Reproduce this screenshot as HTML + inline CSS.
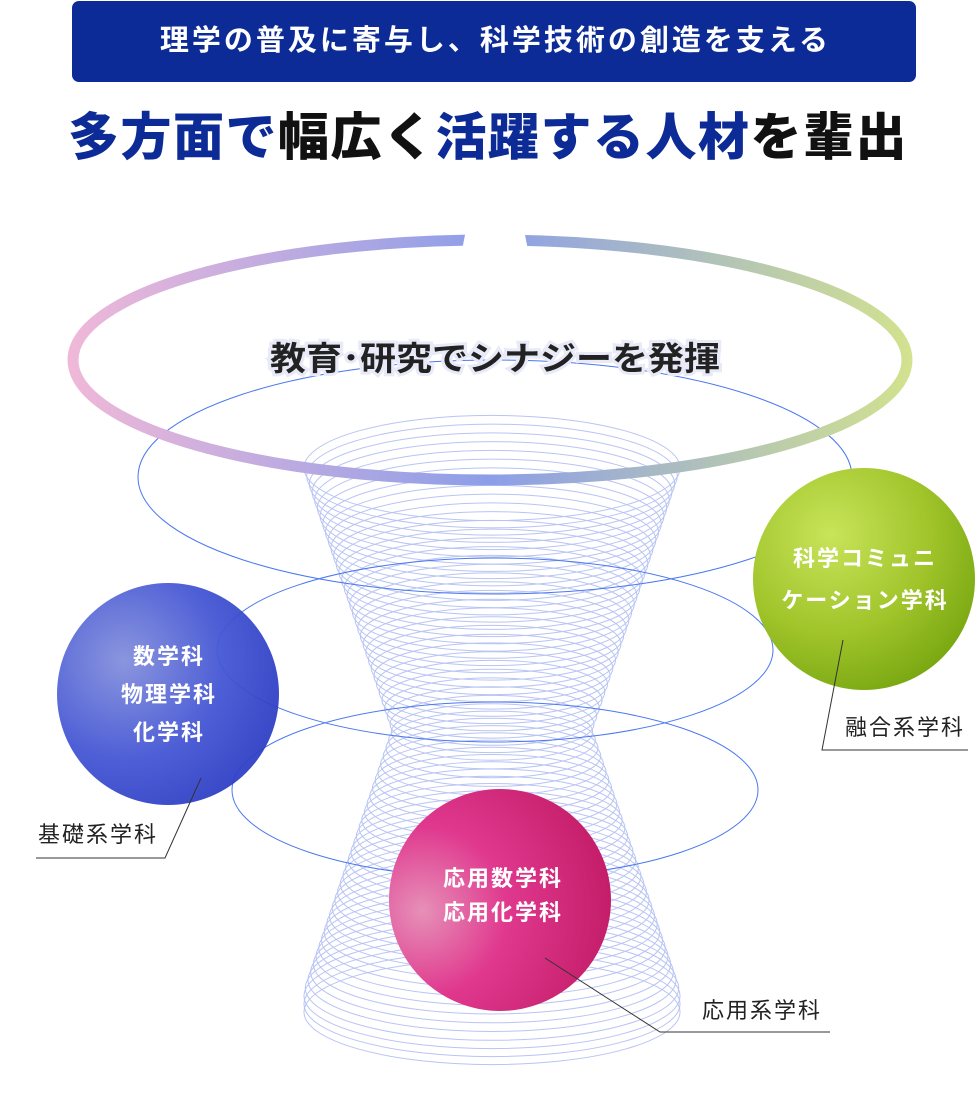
<!DOCTYPE html>
<html><head><meta charset="utf-8"><style>
body{margin:0;width:976px;height:1097px;background:#fff;overflow:hidden;font-family:"Liberation Sans","Noto Sans CJK JP",sans-serif;}
.hdr{position:absolute;left:72px;top:1px;width:844px;height:81px;background:#0c2b96;border-radius:7px;color:#fff;font-size:29px;font-weight:bold;text-align:center;line-height:81px;letter-spacing:3px;text-indent:3px;}
.ttl{position:absolute;left:0;top:106px;width:976px;text-align:center;font-size:51px;font-weight:900;color:#111;letter-spacing:1.5px;line-height:64px;}
.ttl b{color:#0c2b96;}
svg{position:absolute;left:0;top:0;}
</style></head><body>
<div class="hdr">理学の普及に寄与し、科学技術の創造を支える</div>
<div class="ttl"><b>多方面で</b>幅広く<b>活躍する人材</b>を輩出</div>
<svg width="976" height="1097" viewBox="0 0 976 1097" id="s">
<defs>
<linearGradient id="ring" x1="68" y1="0" x2="912" y2="0" gradientUnits="userSpaceOnUse">
<stop offset="0" stop-color="#f0b8d8"/><stop offset="0.5" stop-color="#8c9ee8"/><stop offset="1" stop-color="#d2e28e"/></linearGradient>
<radialGradient id="gb" cx="0.3" cy="0.35" r="0.75"><stop offset="0" stop-color="#8590dc"/><stop offset="0.6" stop-color="#4456d4"/><stop offset="1" stop-color="#2f3fc4"/></radialGradient>
<radialGradient id="gg" cx="0.35" cy="0.3" r="0.75"><stop offset="0" stop-color="#c8e45a"/><stop offset="0.6" stop-color="#a0c42a"/><stop offset="1" stop-color="#7aa812"/></radialGradient>
<radialGradient id="gp" cx="0.15" cy="0.55" r="0.85"><stop offset="0" stop-color="#e690b8"/><stop offset="0.45" stop-color="#e0388e"/><stop offset="1" stop-color="#c41e6a"/></radialGradient>
<mask id="gap"><rect width="976" height="1097" fill="#fff"/><polygon points="468,220 522,220 528,250 462,250" fill="#000"/></mask>
</defs>
<g id="hg" fill="none" stroke="#b8c4f4" stroke-width="1"></g>
<ellipse cx="495" cy="477" rx="357" ry="117" fill="none" stroke="#4a78f0" stroke-width="1"/>
<ellipse cx="495" cy="650" rx="278" ry="92" fill="none" stroke="#4a78f0" stroke-width="1"/>
<ellipse cx="495" cy="790" rx="263" ry="88" fill="none" stroke="#4a78f0" stroke-width="1"/>
<ellipse cx="490" cy="360" rx="417" ry="120" fill="none" stroke="url(#ring)" stroke-width="11" mask="url(#gap)"/>
<text x="270" y="370" textLength="450" lengthAdjust="spacingAndGlyphs" font-size="33" font-weight="bold" fill="#222" stroke="#e8eaf8" stroke-width="6" paint-order="stroke" font-family="Liberation Sans,Noto Sans CJK JP,sans-serif">教育･研究でシナジーを発揮</text>
<circle cx="168" cy="694" r="111" fill="url(#gb)" opacity="0.95"/>
<circle cx="864" cy="579" r="111" fill="url(#gg)"/>
<circle cx="500" cy="900" r="111" fill="url(#gp)"/>
<g fill="#fff" font-size="22" font-weight="bold" text-anchor="middle" letter-spacing="2" font-family="Liberation Sans,Noto Sans CJK JP,sans-serif">
<text x="169" y="664">数学科</text><text x="169" y="702">物理学科</text><text x="169" y="740">化学科</text>
<text x="865" y="566">科学コミュニ</text><text x="865" y="608">ケーション学科</text>
<text x="503" y="886">応用数学科</text><text x="503" y="920">応用化学科</text>
</g>
<g fill="none" stroke="#333" stroke-width="1">
<polyline points="201,778 165,858 36,858"/>
<polyline points="843,640 822,750 968,750"/>
<polyline points="545,958 660,1032 830,1032"/>
</g>
<g fill="#222" font-size="22" letter-spacing="2" font-family="Liberation Sans,Noto Sans CJK JP,sans-serif">
<text x="38" y="842">基礎系学科</text>
<text x="845" y="735">融合系学科</text>
<text x="702" y="1018">応用系学科</text>
</g>
</svg>
<script>
var g=document.getElementById('hg'),s='';
for(var cy=468;cy<=1012;cy+=8){var d=Math.abs(cy-730)/262;var rx=100+88*Math.min(1,d);var ry=rx*0.28;
s+='<ellipse cx="492" cy="'+cy+'" rx="'+rx.toFixed(1)+'" ry="'+ry.toFixed(1)+'"/>';}
g.innerHTML=s;
</script>
</body></html>
